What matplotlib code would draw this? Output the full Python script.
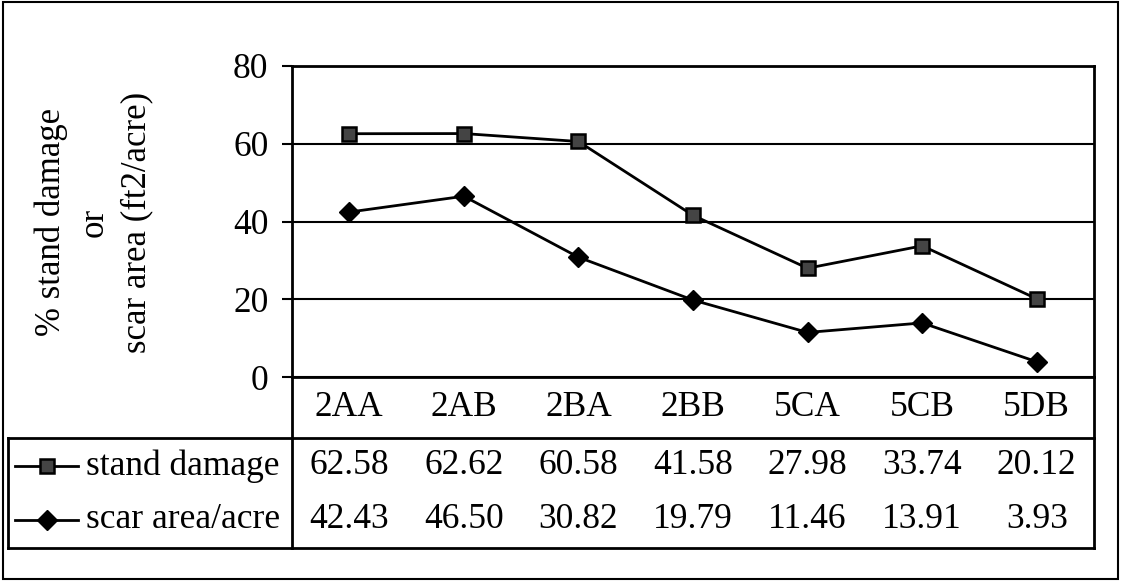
import matplotlib.pyplot as plt
from matplotlib.transforms import blended_transform_factory
from matplotlib.lines import Line2D
import numpy as np

plt.rcParams['font.family'] = ['Liberation Serif', 'DejaVu Serif']

categories = ['2AA', '2AB', '2BA', '2BB', '5CA', '5CB', '5DB']
stand_damage = [62.58, 62.62, 60.58, 41.58, 27.98, 33.74, 20.12]
scar_area = [42.43, 46.50, 30.82, 19.79, 11.46, 13.91, 3.93]
series_names = ['stand damage', 'scar area/acre']
y_ticks = [0, 20, 40, 60, 80]

W, H = 1123, 581
FS = 25.5

def fx(px):
    return px / W

def fy(py):
    return 1 - py / H

fig = plt.figure(figsize=(W / 100, H / 100), dpi=100)

# plot area
left, right, top, bottom = 292, 1094, 66, 377
ax = fig.add_axes([fx(left), fy(bottom), fx(right - left), (bottom - top) / H])
x = np.arange(len(categories))
styles = [dict(marker='s', markersize=10, markerfacecolor='#444444',
               markeredgecolor='black', markeredgewidth=1.8),
          dict(marker='D', markersize=10.5, markerfacecolor='black',
               markeredgecolor='black')]
for vals, st in zip([stand_damage, scar_area], styles):
    ax.plot(x, vals, color='black', lw=2, **st, zorder=3)

ax.set_xlim(-0.5, len(categories) - 0.5)
ax.set_ylim(y_ticks[0], y_ticks[-1])
ax.set_yticks(y_ticks)
ax.tick_params(axis='y', direction='out', length=7, width=1.5, labelsize=FS, pad=10)
ax.set_xticks([])
ax.grid(axis='y', color='black', lw=1.5)
for s in ax.spines.values():
    s.set_linewidth(2)

fig.text(fx(94), fy(222), '% stand damage\nor\nscar area (ft2/acre)',
         rotation=90, ha='center', va='center', fontsize=25, linespacing=1.38,
         multialignment='center')

# data table under the axis
lines = [
    ((left, left), (bottom, 548)),
    ((right, right), (bottom, 548)),
    ((8, right), (438, 438)),
    ((8, right), (548, 548)),
    ((8, 8), (438, 548)),
]
for xs, ys in lines:
    fig.add_artist(Line2D([fx(v) for v in xs], [fy(v) for v in ys],
                          color='black', lw=2))

trans = blended_transform_factory(ax.transData, fig.transFigure)
for i, c in enumerate(categories):
    fig.text(i, fy(407), c, transform=trans, ha='center', va='center', fontsize=FS)

row_y = [466, 520]
for vals, name, st, ry in zip([stand_damage, scar_area], series_names, styles, row_y):
    for i, v in enumerate(vals):
        fig.text(i, fy(ry), f'{v:.2f}', transform=trans, ha='center',
                 va='center', fontsize=FS)
    fig.add_artist(Line2D([fx(15), fx(78)], [fy(ry), fy(ry)], color='black',
                          lw=2))
    fig.add_artist(Line2D([fx(47)], [fy(ry)], color='black', lw=0, **st))
    fig.text(fx(86), fy(ry), name, ha='left', va='center', fontsize=FS)

# outer frame
fig.add_artist(plt.Rectangle((fx(3), fy(579)), fx(1115), 577 / H, fill=False,
                             edgecolor='black', lw=1.5, transform=fig.transFigure))

fig.savefig('out.png', dpi=100)
